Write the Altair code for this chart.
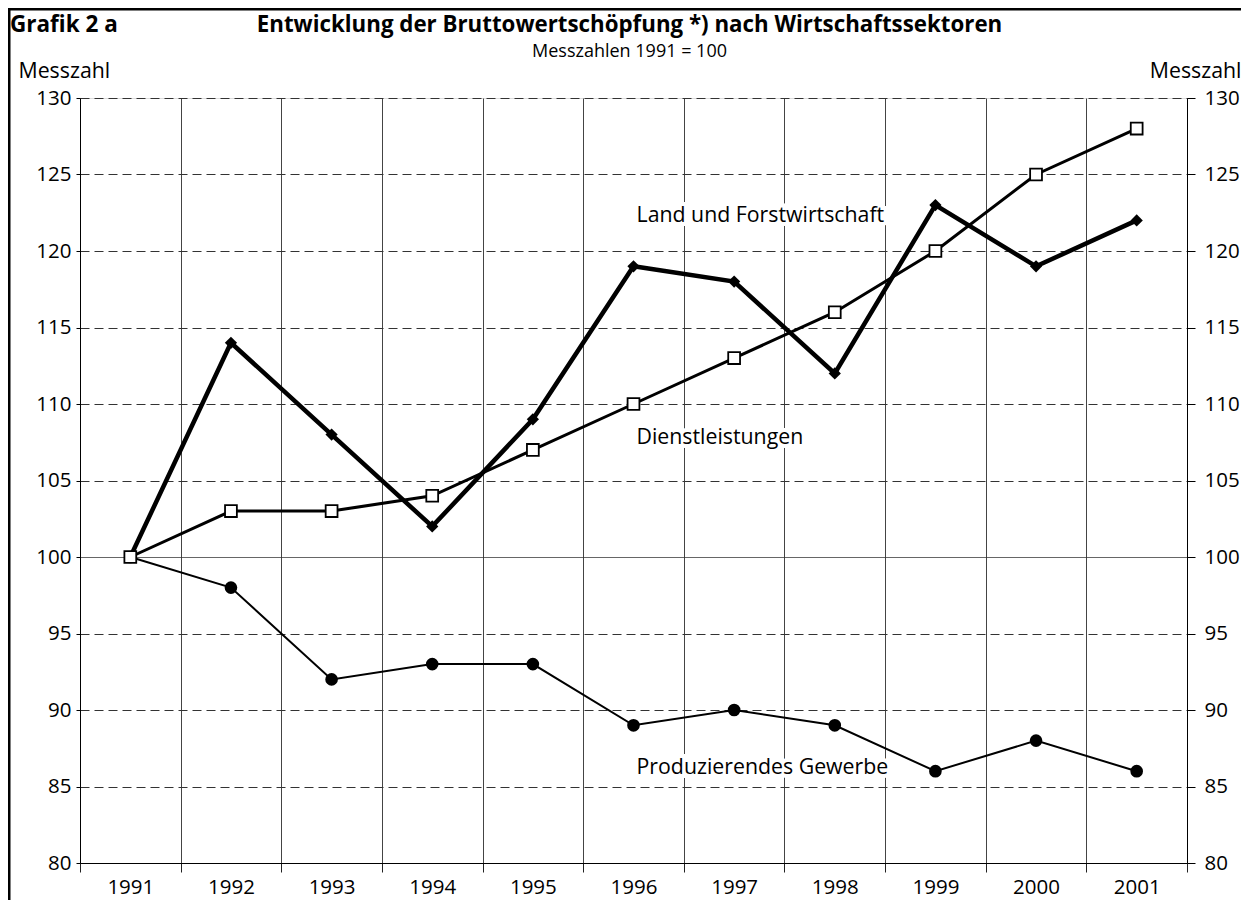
import altair as alt
import pandas as pd

years = [1991, 1992, 1993, 1994, 1995, 1996, 1997, 1998, 1999, 2000, 2001]
land = [100, 114, 108, 102, 109, 119, 118, 112, 123, 119, 122]
dienst = [100, 103, 103, 104, 107, 110, 113, 116, 120, 125, 128]
produz = [100, 98, 92, 93, 93, 89, 90, 89, 86, 88, 86]

label_names = ["Land und Forstwirtschaft", "Dienstleistungen", "Produzierendes Gewerbe"]
label_x = [1996.03, 1996.03, 1996.03]
label_y = [122.3, 107.8, 86.2]

y_ticks = [80, 85, 90, 95, 100, 105, 110, 115, 120, 125, 130]
x_bounds = [1990.5 + i for i in range(12)]

title_main = "Entwicklung der Bruttowertschöpfung *) nach Wirtschaftssektoren"
title_sub = "Messzahlen 1991 = 100"
title_left = "Grafik 2 a"

FONT = "Open Sans"
W, H = 1107, 765
TICK_FS = 20.5
TXT_FS = 21.3

df_land = pd.DataFrame({"Jahr": years, "Wert": land})
df_dienst = pd.DataFrame({"Jahr": years, "Wert": dienst})
df_produz = pd.DataFrame({"Jahr": years, "Wert": produz})
df_labels = pd.DataFrame({"Jahr": label_x, "Wert": label_y, "Text": label_names})

xscale = alt.Scale(domain=[1990.5, 2001.5], nice=False, zero=False)
yscale = alt.Scale(domain=[80, 130], nice=False, zero=False)

x_axis = alt.Axis(
    values=x_bounds,
    title=None,
    grid=True,
    gridColor="#444444",
    gridWidth=1,
    ticks=True,
    tickSize=9,
    tickColor="#222222",
    domain=True,
    domainColor="#000000",
    labelExpr="datum.value < 2001 ? format(datum.value + 0.5, 'd') : ''",
    labelOffset=W / 22,
    labelFlush=False,
    labelFontSize=TICK_FS,
    labelFont=FONT,
    labelColor="#000000",
    labelPadding=5,
)

y_left = alt.Axis(
    orient="left",
    values=y_ticks,
    title="Messzahl",
    titleAngle=0,
    titleX=-62,
    titleY=-27,
    titleAlign="left",
    titleBaseline="middle",
    titleFont=FONT,
    titleFontSize=TXT_FS,
    titleFontWeight="normal",
    titleColor="#000000",
    grid=True,
    gridColor="#333333",
    gridWidth=1,
    gridDash={"condition": {"test": "datum.value === 100", "value": [1, 0]}, "value": [9, 5]},
    tickSize=4,
    tickColor="#000000",
    domainColor="#000000",
    labelFontSize=TICK_FS,
    labelFont=FONT,
    labelColor="#000000",
    labelPadding=5,
    labelFlush=False,
)

y_right = alt.Axis(
    orient="right",
    values=y_ticks,
    title="Messzahl",
    titleAngle=0,
    titleX=54,
    titleY=-27,
    titleAlign="right",
    titleBaseline="middle",
    titleFont=FONT,
    titleFontSize=TXT_FS,
    titleFontWeight="normal",
    titleColor="#000000",
    grid=False,
    tickSize=8,
    tickColor="#000000",
    domainColor="#000000",
    labelFontSize=TICK_FS,
    labelFont=FONT,
    labelColor="#000000",
    labelPadding=9,
    labelFlush=False,
)

X = alt.X("Jahr:Q", scale=xscale, axis=x_axis)
Y_L = alt.Y("Wert:Q", scale=yscale, axis=y_left)
Y_R = alt.Y("Wert:Q", scale=yscale, axis=y_right)
Y_N = alt.Y("Wert:Q", scale=yscale, axis=None)

# base layers carrying the axes
base_left = alt.Chart(df_produz).mark_point(opacity=0).encode(x=X, y=Y_L)
base_right = alt.Chart(df_produz).mark_point(opacity=0).encode(x=X, y=Y_R)

line_land = alt.Chart(df_land).mark_line(color="black", strokeWidth=4.5).encode(x=X, y=Y_N)
line_dienst = alt.Chart(df_dienst).mark_line(color="black", strokeWidth=3).encode(x=X, y=Y_N)
line_produz = alt.Chart(df_produz).mark_line(color="black", strokeWidth=2).encode(x=X, y=Y_N)

pts_land = alt.Chart(df_land).mark_point(shape="diamond", filled=True, color="black", size=150, opacity=1).encode(x=X, y=Y_N)
pts_produz = alt.Chart(df_produz).mark_point(shape="circle", filled=True, color="black", size=160, opacity=1).encode(x=X, y=Y_N)
pts_dienst = alt.Chart(df_dienst).mark_point(shape="square", filled=True, fill="white", stroke="black", strokeWidth=1.8, size=140, opacity=1).encode(x=X, y=Y_N)

halo = alt.Chart(df_labels).mark_text(
    align="left", baseline="middle", font=FONT, fontSize=TXT_FS, stroke="white", strokeWidth=8, fill="white"
).encode(x=X, y=Y_N, text="Text:N")
labels = alt.Chart(df_labels).mark_text(
    align="left", baseline="middle", font=FONT, fontSize=TXT_FS, color="black"
).encode(x=X, y=Y_N, text="Text:N")

one = pd.DataFrame({"k": [0]})
frame_left = alt.Chart(one).mark_rule(color="black", strokeWidth=3).encode(
    x=alt.value(-71), y=alt.value(-89), y2=alt.value(H + 40)
)
frame_top = alt.Chart(one).mark_rule(color="black", strokeWidth=3).encode(
    x=alt.value(-72), x2=alt.value(W + 60), y=alt.value(-89)
)
grafik = alt.Chart(one).mark_text(
    align="left", baseline="middle", font=FONT, fontSize=22.5, fontWeight="bold", color="black"
).encode(x=alt.value(-70), y=alt.value(-73), text=alt.value(title_left))
main_title = alt.Chart(one).mark_text(
    align="center", baseline="middle", font=FONT, fontSize=22.3, fontWeight="bold", color="black"
).encode(x=alt.value(W / 2 - 4), y=alt.value(-73), text=alt.value(title_main))
sub_title = alt.Chart(one).mark_text(
    align="center", baseline="middle", font=FONT, fontSize=18, color="black"
).encode(x=alt.value(W / 2 - 4), y=alt.value(-46), text=alt.value(title_sub))

chart = alt.layer(
    base_left, base_right,
    line_land, line_dienst, line_produz,
    pts_land, pts_produz, pts_dienst,
    halo, labels,
    frame_left, frame_top, grafik, main_title, sub_title,
).resolve_axis(y="independent").properties(
    width=W,
    height=H,
    autosize=alt.AutoSizeParams(type="none"),
    padding={"left": 72, "top": 90, "right": 54, "bottom": 37},
).configure_view(stroke="black", strokeWidth=1.5).configure(background="white")

chart.save("out.html", embed_options={"renderer": "svg", "actions": False})
